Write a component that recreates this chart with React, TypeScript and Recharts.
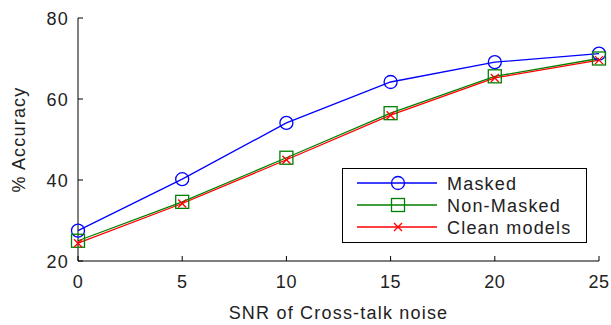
import React from 'react';
import { LineChart, Line, XAxis, YAxis } from 'recharts';

const snr = [0, 5, 10, 15, 20, 25];
const masked = [27.5, 40.2, 54.1, 64.2, 69.1, 71.2];
const nonMasked = [25.0, 34.6, 45.5, 56.5, 65.6, 70.0];
const cleanModels = [24.4, 34.2, 45.0, 56.0, 65.2, 69.6];
const xTicks = [0, 5, 10, 15, 20, 25];
const yTicks = [20, 40, 60, 80];

const data = snr.map((s, i) => ({
  snr: s,
  masked: masked[i],
  nonMasked: nonMasked[i],
  clean: cleanModels[i],
}));

const FONT = '"Liberation Sans", Arial, sans-serif';
const TEXT = '#222';
const FS = 18;
const LS = 1.2; // matlab-style wide letter spacing

const CircleDot = (props: any) => (
  <circle key={props.index} cx={props.cx} cy={props.cy} r={6.5} fill="none" stroke="#0000ff" strokeWidth={1.3} />
);
const SquareDot = (props: any) => (
  <rect key={props.index} x={props.cx - 6.5} y={props.cy - 6.5} width={13} height={13} fill="none" stroke="#008000" strokeWidth={1.3} />
);
const CrossDot = (props: any) => (
  <path key={props.index} d={`M${props.cx - 4},${props.cy - 4}L${props.cx + 4},${props.cy + 4}M${props.cx - 4},${props.cy + 4}L${props.cx + 4},${props.cy - 4}`} stroke="#ff0000" strokeWidth={1.3} />
);

// tick marks point inwards, labels sit outside
const BottomTick = (props: any) => (
  <g>
    <line x1={props.x} y1={props.y} x2={props.x} y2={props.y - 5} stroke="#000" />
    <text x={props.x} y={props.y + 27} textAnchor="middle" fontSize={FS} fontFamily={FONT} fill={TEXT} style={{ letterSpacing: 0.6 }}>
      {props.payload.value}
    </text>
  </g>
);
const TopTick = (props: any) => (
  <line x1={props.x} y1={props.y} x2={props.x} y2={props.y + 5} stroke="#000" />
);
const LeftTick = (props: any) => (
  <g>
    <line x1={props.x} y1={props.y} x2={props.x + 5} y2={props.y} stroke="#000" />
    <text x={props.x - 9} y={props.y + 7} textAnchor="end" fontSize={FS} fontFamily={FONT} fill={TEXT} style={{ letterSpacing: LS }}>
      {props.payload.value}
    </text>
  </g>
);
const RightTick = (props: any) => (
  <line x1={props.x} y1={props.y} x2={props.x - 5} y2={props.y} stroke="#000" />
);

const legendItems = [
  { name: 'Masked', color: '#0000ff', marker: 'circle' },
  { name: 'Non-Masked', color: '#008000', marker: 'square' },
  { name: 'Clean models', color: '#ff0000', marker: 'cross' },
];

// drawn as an overlay so it does not take space from the plot
const LegendBox = () => (
  <svg width={246} height={75} style={{ position: 'absolute', left: 342, top: 168 }}>
    <rect x={0.5} y={0.5} width={244} height={74} fill="#fff" stroke="#000" strokeWidth={1} />
    {legendItems.map((it, i) => {
      const cy = 15 + i * 22;
      return (
        <g key={it.name}>
          <line x1={15} y1={cy} x2={95} y2={cy} stroke={it.color} strokeWidth={1.3} />
          {it.marker === 'circle' && <circle cx={56} cy={cy} r={6.5} fill="none" stroke={it.color} strokeWidth={1.3} />}
          {it.marker === 'square' && <rect x={49.5} y={cy - 6.5} width={13} height={13} fill="none" stroke={it.color} strokeWidth={1.3} />}
          {it.marker === 'cross' && (
            <path d={`M52,${cy - 4}L60,${cy + 4}M52,${cy + 4}L60,${cy - 4}`} stroke={it.color} strokeWidth={1.3} />
          )}
          <text x={105} y={cy + 6.5} fontSize={FS} fontFamily={FONT} fill={TEXT} style={{ letterSpacing: LS }}>{it.name}</text>
        </g>
      );
    })}
  </svg>
);

export default function App() {
  return (
    <div style={{ position: 'absolute', left: 0, top: 0, width: 611, height: 325, background: '#fff' }}>
      <LineChart width={611} height={325} data={data} margin={{ top: 18, right: 12, left: 38, bottom: 34 }}>
        <XAxis
          xAxisId="bottom"
          dataKey="snr"
          type="number"
          domain={[0, 25]}
          ticks={xTicks}
          height={30}
          tickSize={0}
          tickMargin={0}
          tickLine={false}
          tick={<BottomTick />}
          axisLine={{ stroke: '#000' }}
          label={{ value: 'SNR of Cross-talk noise', position: 'insideBottom', offset: -28, fontSize: FS, fontFamily: FONT, fill: TEXT, style: { letterSpacing: LS } }}
        />
        <XAxis
          xAxisId="top"
          orientation="top"
          dataKey="snr"
          type="number"
          domain={[0, 25]}
          ticks={xTicks}
          height={0}
          tickSize={0}
          tickMargin={0}
          tickLine={false}
          tick={<TopTick />}
          axisLine={{ stroke: '#000' }}
        />
        <YAxis
          yAxisId="left"
          type="number"
          domain={[20, 80]}
          ticks={yTicks}
          width={40}
          tickSize={0}
          tickMargin={0}
          tickLine={false}
          tick={<LeftTick />}
          axisLine={{ stroke: '#000' }}
          label={{ value: '% Accuracy', angle: -90, position: 'insideLeft', offset: -19, fontSize: FS, fontFamily: FONT, fill: TEXT, style: { textAnchor: 'middle', letterSpacing: LS } }}
        />
        <YAxis
          yAxisId="right"
          orientation="right"
          type="number"
          domain={[20, 80]}
          ticks={yTicks}
          width={0}
          tickSize={0}
          tickMargin={0}
          tickLine={false}
          tick={<RightTick />}
          axisLine={{ stroke: '#000' }}
        />
        <Line xAxisId="bottom" yAxisId="left" type="linear" dataKey="masked" stroke="#0000ff" strokeWidth={1.3} dot={<CircleDot />} isAnimationActive={false} />
        <Line xAxisId="bottom" yAxisId="left" type="linear" dataKey="nonMasked" stroke="#008000" strokeWidth={1.3} dot={<SquareDot />} isAnimationActive={false} />
        <Line xAxisId="bottom" yAxisId="left" type="linear" dataKey="clean" stroke="#ff0000" strokeWidth={1.3} dot={<CrossDot />} isAnimationActive={false} />
      </LineChart>
      <LegendBox />
    </div>
  );
}
